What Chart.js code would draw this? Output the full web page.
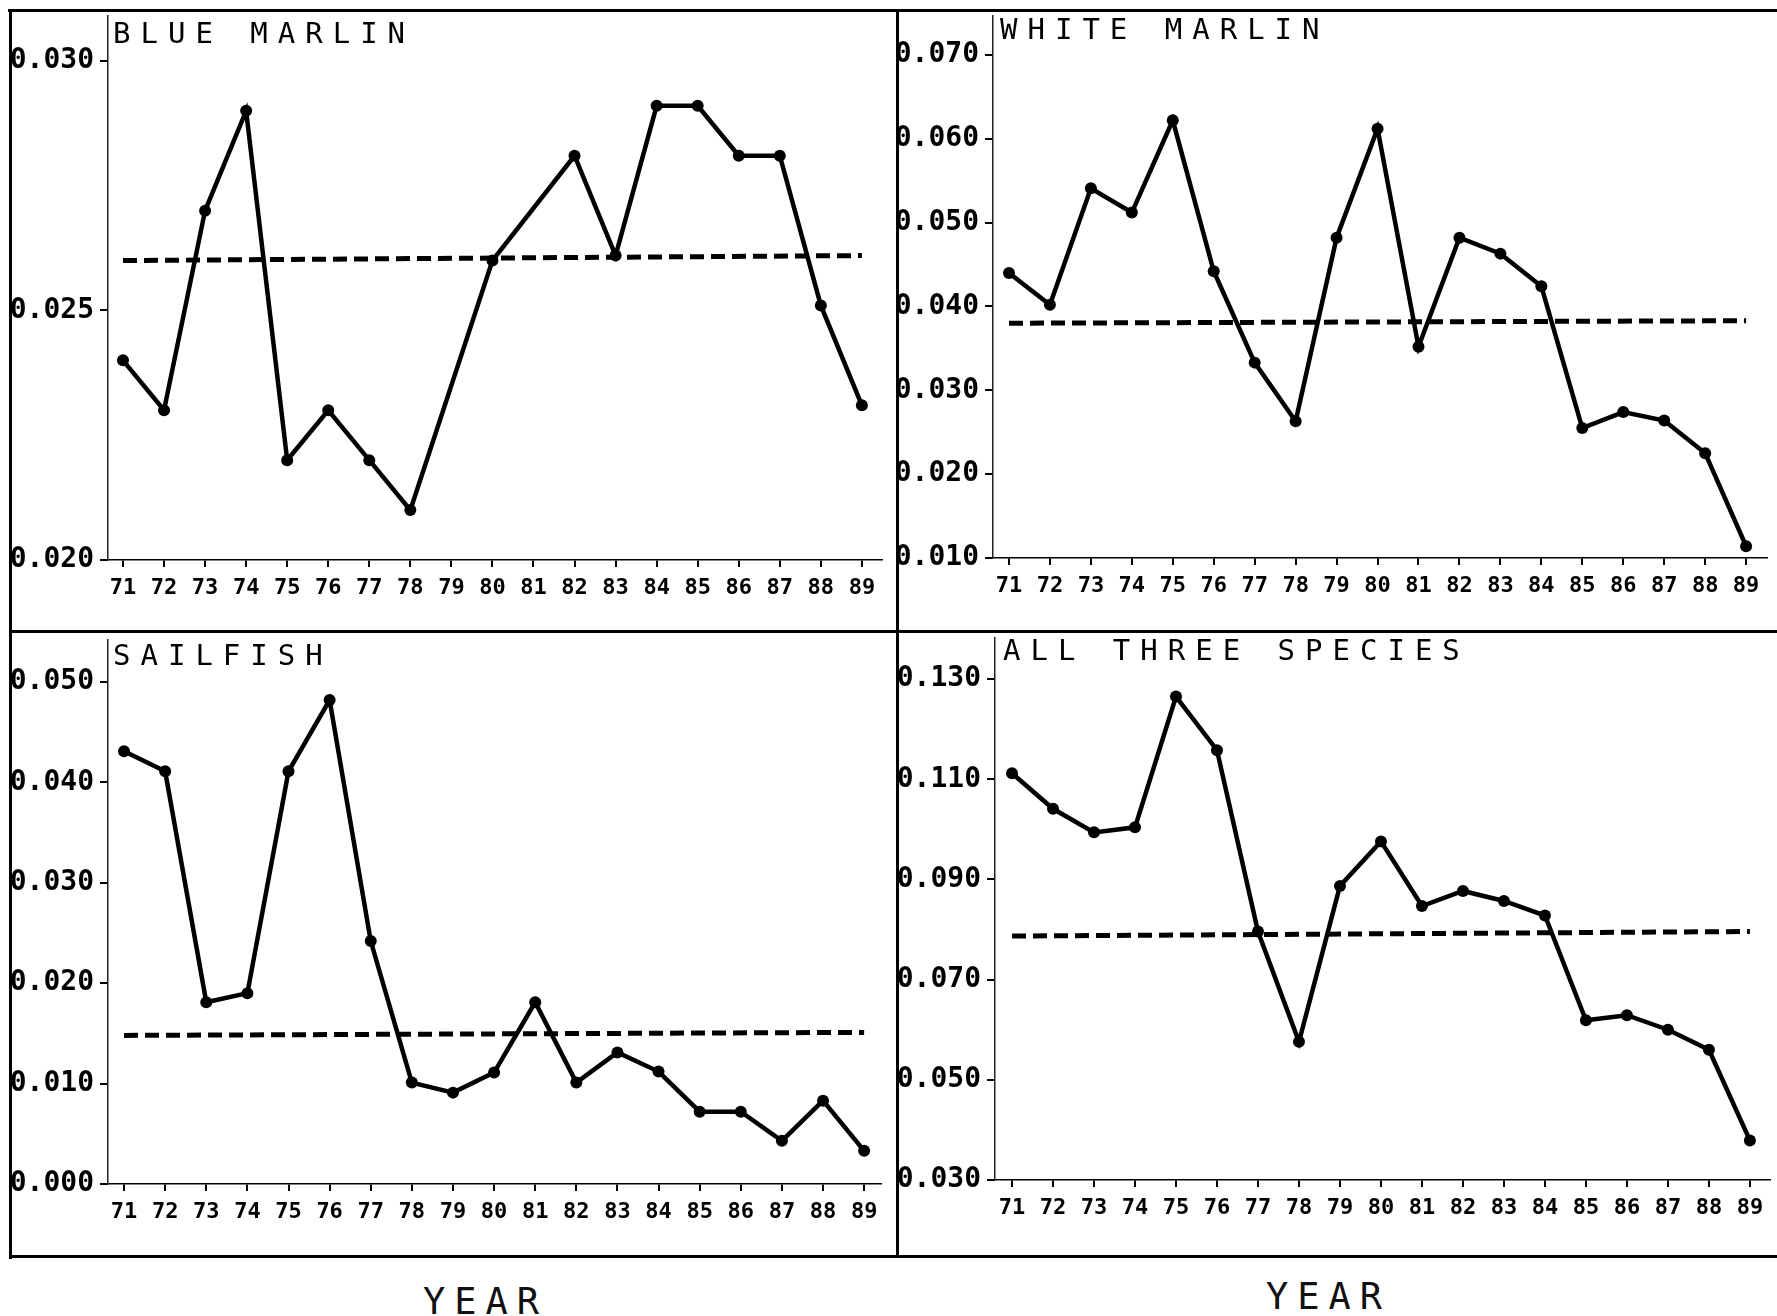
<!DOCTYPE html>
<html>
<head>
<meta charset="utf-8">
<script src="https://cdn.jsdelivr.net/npm/chart.js@4/dist/chart.umd.min.js"></script>
<style>
    html, body { margin: 0; padding: 0; background: #fff; }
    #page { position: relative; width: 1777px; height: 1316px; overflow: hidden; background: #fff; }
    canvas { position: absolute; }
    .frame { position: absolute; background: #000; z-index: 2; }
    .title {
        position: absolute; z-index: 3; white-space: nowrap;
        font-family: 'DejaVu Sans Mono', monospace; font-size: 29px; line-height: 29px;
        letter-spacing: 10px; color: #000;
    }
    .year {
        position: absolute; white-space: nowrap;
        font-family: 'DejaVu Sans Mono', monospace; font-size: 37px; line-height: 37px;
        letter-spacing: 9px; color: #111;
    }
</style>
</head>
<body>
<div id="page">
    <canvas id="chartBlue" width="888" height="621" style="left:10px;top:10px"></canvas>
    <canvas id="chartWhite" width="879" height="621" style="left:898px;top:10px"></canvas>
    <canvas id="chartSail" width="888" height="625" style="left:10px;top:631px"></canvas>
    <canvas id="chartAll" width="879" height="625" style="left:898px;top:631px"></canvas>

    <!-- cadres des panneaux -->
    <div class="frame" style="left:8px;top:9px;width:1769px;height:3px"></div>
    <div class="frame" style="left:9px;top:9px;width:3px;height:1250px"></div>
    <div class="frame" style="left:896px;top:9px;width:3px;height:1248px"></div>
    <div class="frame" style="left:9px;top:630px;width:1768px;height:3px"></div>
    <div class="frame" style="left:9px;top:1255px;width:1768px;height:3px"></div>

    <div class="title" style="left:113px;top:19px">BLUE MARLIN</div>
    <div class="title" style="left:1000px;top:15px">WHITE MARLIN</div>
    <div class="title" style="left:113px;top:641px">SAILFISH</div>
    <div class="title" style="left:1003px;top:636px">ALL THREE SPECIES</div>

    <div class="year" style="left:423px;top:1283px">YEAR</div>
    <div class="year" style="left:1266px;top:1278px">YEAR</div>
</div>

<script>
    // Années (axe X)
    const years = [71, 72, 73, 74, 75, 76, 77, 78, 79, 80, 81, 82, 83, 84, 85, 86, 87, 88, 89];

    // Séries (null = pas de point)
    const blueMarlin = [0.0240, 0.0230, 0.0270, 0.0290, 0.0220, 0.0230, 0.0220, 0.0210, null, 0.0260,
        null, 0.0281, 0.0261, 0.0291, 0.0291, 0.0281, 0.0281, 0.0251, 0.0231];
    const whiteMarlin = [0.0440, 0.0402, 0.0541, 0.0512, 0.0622, 0.0442, 0.0333, 0.0263, 0.0482, 0.0612,
        0.0352, 0.0482, 0.0463, 0.0424, 0.0255, 0.0274, 0.0264, 0.0225, 0.0114];
    const sailfish = [0.0431, 0.0411, 0.0181, 0.0190, 0.0411, 0.0482, 0.0242, 0.0101, 0.0091, 0.0111,
        0.0181, 0.0101, 0.0131, 0.0112, 0.0072, 0.0072, 0.0043, 0.0083, 0.0033];
    const allThree = [0.1112, 0.1041, 0.0994, 0.1004, 0.1265, 0.1158, 0.0796, 0.0576, 0.0887, 0.0976,
        0.0847, 0.0877, 0.0857, 0.0828, 0.0619, 0.0629, 0.0600, 0.0560, 0.0379];

    // Ligne moyenne (début 71, fin 89)
    const blueMean = [0.0260, 0.0261];
    const whiteMean = [0.0380, 0.0383];
    const sailMean = [0.0148, 0.0151];
    const allMean = [0.0787, 0.0796];

    // Graduations Y
    const blueTicks = [0.020, 0.025, 0.030];
    const whiteTicks = [0.010, 0.020, 0.030, 0.040, 0.050, 0.060, 0.070];
    const sailTicks = [0.000, 0.010, 0.020, 0.030, 0.040, 0.050];
    const allTicks = [0.030, 0.050, 0.070, 0.090, 0.110, 0.130];

    const mono = 'DejaVu Sans Mono';

    const makePanel = (id, values, mean, yTicks, box) => {
        const points = years.map((yr, i) => ({ x: yr, y: values[i] }));
        const meanPoints = [
            { x: years[0], y: mean[0] },
            { x: years[years.length - 1], y: mean[1] },
        ];

        new Chart(document.getElementById(id), {
            type: 'line',
            data: {
                datasets: [
                    {
                        data: points,
                        borderColor: '#000',
                        backgroundColor: '#000',
                        borderWidth: 4.5,
                        pointRadius: 6,
                        pointBorderWidth: 0,
                        spanGaps: true,
                        tension: 0,
                    },
                    {
                        data: meanPoints,
                        borderColor: '#000',
                        borderWidth: 5,
                        borderDash: [14, 7],
                        pointRadius: 0,
                        tension: 0,
                    },
                ],
            },
            options: {
                responsive: false,
                animation: false,
                layout: { padding: { top: box.padTop, right: box.padRight, left: 0, bottom: 0 } },
                plugins: { legend: { display: false }, tooltip: { enabled: false } },
                scales: {
                    x: {
                        type: 'linear',
                        min: box.xMin,
                        max: box.xMax,
                        afterBuildTicks: (s) => { s.ticks = years.map((v) => ({ value: v })); },
                        afterFit: (s) => {
                            s.height = box.xHeight;
                            s.paddingLeft = 0;
                            s.paddingRight = 0;
                        },
                        ticks: {
                            autoSkip: false,
                            maxRotation: 0,
                            padding: 8,
                            color: '#000',
                            font: { family: mono, weight: 'bold', size: 22 },
                            callback: (v) => String(v),
                        },
                        grid: { drawOnChartArea: false, tickLength: 7, color: '#000', lineWidth: 2 },
                        border: { display: true, color: '#000', width: 1.5, dash: [7, 3] },
                    },
                    y: {
                        type: 'linear',
                        min: box.yMin,
                        max: box.yMax,
                        afterBuildTicks: (s) => { s.ticks = yTicks.map((v) => ({ value: v })); },
                        afterFit: (s) => {
                            s.width = box.yWidth;
                            s.paddingTop = 0;
                            s.paddingBottom = 0;
                        },
                        ticks: {
                            padding: 6,
                            color: '#000',
                            font: { family: mono, weight: 'bold', size: 28 },
                            callback: (v) => v.toFixed(3),
                        },
                        grid: { drawOnChartArea: false, tickLength: 8, color: '#000', lineWidth: 2 },
                        border: { display: true, color: '#222', width: 1.5, dash: [2, 2] },
                    },
                },
            },
        });
    };

    makePanel('chartBlue', blueMarlin, blueMean, blueTicks, {
        xMin: 70.635, xMax: 89.49, yMin: 0.020, yMax: 0.0309,
        padTop: 5, padRight: 16, yWidth: 98, xHeight: 71,
    });
    makePanel('chartWhite', whiteMarlin, whiteMean, whiteTicks, {
        xMin: 70.61, xMax: 89.51, yMin: 0.010, yMax: 0.07464,
        padTop: 5, padRight: 10, yWidth: 95, xHeight: 73,
    });
    makePanel('chartSail', sailfish, sailMean, sailTicks, {
        xMin: 70.61, xMax: 89.41, yMin: 0.000, yMax: 0.05418,
        padTop: 9, padRight: 17, yWidth: 98, xHeight: 72,
    });
    makePanel('chartAll', allThree, allMean, allTicks, {
        xMin: 70.585, xMax: 89.49, yMin: 0.030, yMax: 0.1382,
        padTop: 7, padRight: 7, yWidth: 97, xHeight: 76,
    });
</script>
</body>
</html>
